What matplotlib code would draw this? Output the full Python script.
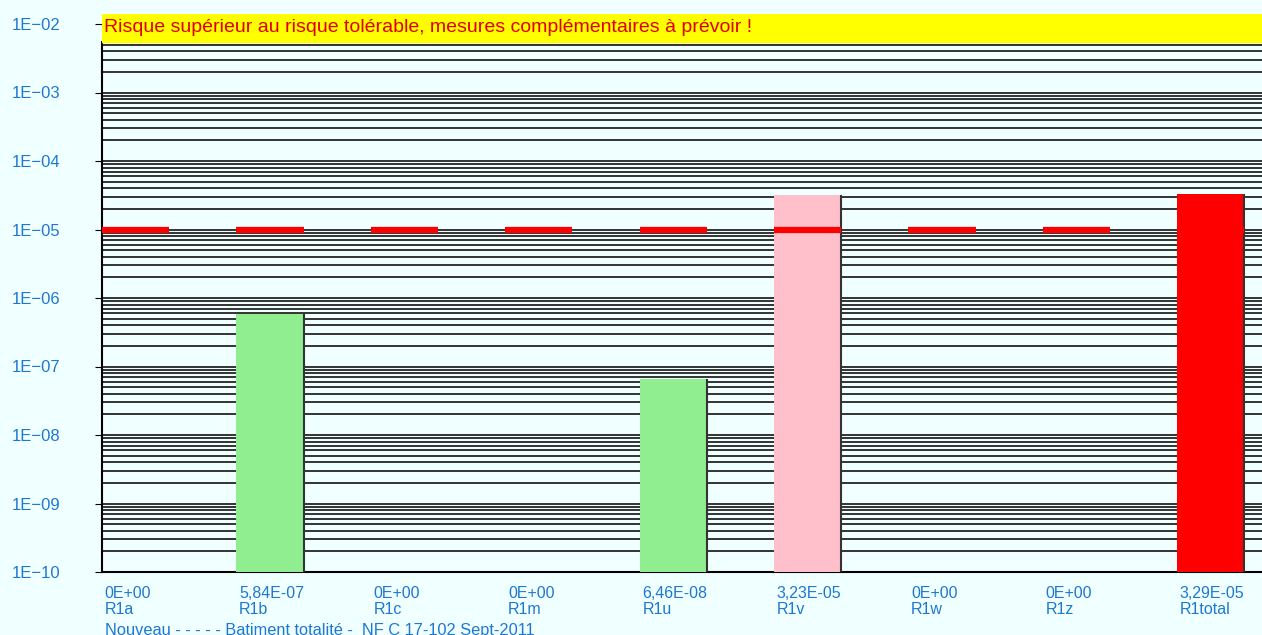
import math
import matplotlib.pyplot as plt
from matplotlib.ticker import FixedLocator, LogLocator, FuncFormatter
from matplotlib.transforms import blended_transform_factory

plt.rcParams['font.family'] = ['Liberation Sans', 'DejaVu Sans']

# composantes de risque R1
categories = ['R1a', 'R1b', 'R1c', 'R1m', 'R1u', 'R1v', 'R1w', 'R1z', 'R1total']
values = [0, 5.84e-07, 0, 0, 6.46e-08, 3.23e-05, 0, 0, 3.29e-05]
colors = ['#90EE90', '#90EE90', '#90EE90', '#90EE90', '#90EE90', '#FFC0CB', '#90EE90', '#90EE90', '#FF0000']
risque_tolerable = 1e-05
titre = "Risque supérieur au risque tolérable, mesures complémentaires à prévoir !"
pied = "Nouveau - - - - - Batiment totalité -  NF C 17-102 Sept-2011"

bg = '#F0FFFF'
bleu = '#1E78D0'

fig = plt.figure(figsize=(12.62, 6.35), dpi=100, facecolor=bg)
ax = fig.add_axes([102 / 1262, 63 / 635, 1160 / 1262, 558 / 635])
ax.set_facecolor(bg)

bas = 1e-10
haut = 10 ** (-2 + 10 / 68.5)
ax.set_yscale('log')
ax.set_ylim(bas, haut)
ax.set_xlim(0, 1160 / 134.4)

larg = 0.5
x = list(range(len(categories)))

# barres
for xi, v, c in zip(x, values, colors):
    if v > 0:
        ax.bar(xi, v - bas, bottom=bas, width=larg, align='edge', color=c, zorder=3)
        ax.vlines(xi + larg, bas, v, color='#333333', lw=1.5, zorder=3)

# seuil tolérable
ax.hlines([risque_tolerable] * len(x), [xi for xi in x], [xi + larg for xi in x],
          color='red', lw=4.5, zorder=4)

# bandeau jaune
ax.axhspan(5.5e-3, haut, color='yellow', zorder=5)
ax.text(0.015, 10 ** (-2 - 4 / 68.5), titre, color='#E00000', fontsize=14,
        va='center', ha='left', zorder=6)

# grille
ax.yaxis.set_major_locator(FixedLocator([10.0 ** e for e in range(-10, -1)]))
ax.yaxis.set_minor_locator(LogLocator(base=10, subs=range(2, 10), numticks=20))
ax.yaxis.set_major_formatter(FuncFormatter(lambda v, p: '1E\u2212%02d' % round(-math.log10(v))))
ax.yaxis.set_minor_formatter(FuncFormatter(lambda v, p: ''))
ax.grid(which='both', axis='y', color='#333333', lw=1.4, zorder=1)
ax.tick_params(axis='y', which='major', length=5, color='black', labelcolor=bleu, labelsize=12, pad=60)
ax.tick_params(axis='y', which='minor', length=0)
for lab in ax.get_yticklabels():
    lab.set_horizontalalignment('left')
ax.set_xticks([])

for s in ['top', 'right']:
    ax.spines[s].set_visible(False)
ax.spines['left'].set_linewidth(1.5)
ax.spines['bottom'].set_linewidth(1.5)
ax.spines['left'].set_bounds(bas, 5.5e-3)

# étiquettes sous l'axe
tr = blended_transform_factory(ax.transData, ax.transAxes)
for xi, v, nom in zip(x, values, categories):
    txt = '0E+00' if v == 0 else ('%.2E' % v).replace('.', ',')
    ax.text(xi + 0.02, -22 / 558, txt, transform=tr, color=bleu, fontsize=11.5, va='center', ha='left')
    ax.text(xi + 0.02, -38 / 558, nom, transform=tr, color=bleu, fontsize=11.5, va='center', ha='left')
ax.text(0.02, -58 / 558, pied, transform=tr, color=bleu, fontsize=11.8, va='center', ha='left')

fig.savefig('out.png', dpi=100, facecolor=bg)
